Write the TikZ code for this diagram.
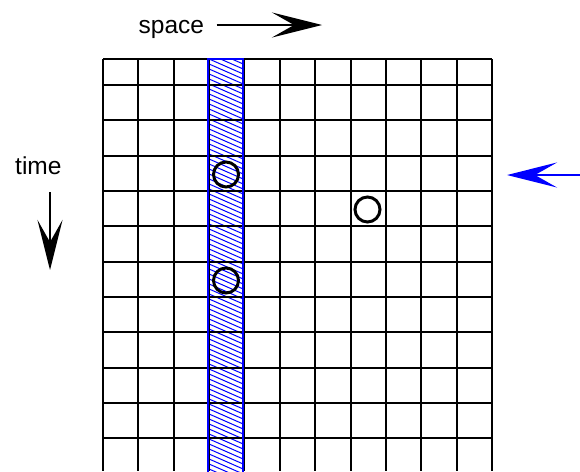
\documentclass[tikz,border=0pt]{standalone}
\usepackage{fontspec}
\setmainfont{Liberation Sans}
\usetikzlibrary{arrows.meta}
\begin{document}
\begin{tikzpicture}[x=1pt,y=-1pt,
  gridline/.style={line width=1.8pt, black},
  hatchline/.style={blue, line width=1pt},
  bighead/.style={-{Stealth[length=50pt,width=25pt,inset=22pt]}, line width=2.4pt},
  lbl/.style={font=\fontsize{24.5}{30}\selectfont, inner sep=0pt},
  dot/.style={circle, draw=black, line width=3pt, minimum size=25pt, inner sep=0pt}]
\useasboundingbox (0,0) rectangle (580,471);
\fill[white] (0,0) rectangle (580,471);
% hatched column
\begin{scope}
  \clip (208,59) rectangle (243,471);
  \foreach \k in {0,...,110} {
    \draw[hatchline] (200,40+5*\k) -- (250,62+5*\k);
  }
\end{scope}
% grid
\foreach \i in {0,...,11} {
  \pgfmathsetmacro\gx{round(103+35.36*\i)}
  \draw[gridline] (\gx,59) -- (\gx,471);
}
\draw[gridline] (103,59) -- (492,59);
\foreach \k in {0,...,10} {
  \pgfmathsetmacro\gy{round(85+35.33*\k)}
  \draw[gridline] (103,\gy) -- (492,\gy);
}
% column border
\draw[blue, line width=2.5pt] (208,59) rectangle (243,473);
% circles
\node[dot] (c1) at (226,174.5) {};
\node[dot] (c2) at (226,280.5) {};
\node[dot] (c3) at (367.5,209.5) {};
% labels
\node[lbl, anchor=base west] (space) at (138.5,33.3) {space};
\node[lbl, anchor=base west] (time) at (15,174) {time};
% arrows
\coordinate (sa) at (216.7,25);
\coordinate (sb) at (322,25);
\draw[bighead] (sa) -- (sb);
\coordinate (ta) at (50,192);
\coordinate (tb) at (50,270);
\draw[bighead] (ta) -- (tb);
\coordinate (ba) at (580,175);
\coordinate (bb) at (507,175);
\draw[bighead, blue] (ba) -- (bb);
\end{tikzpicture}
\end{document}
